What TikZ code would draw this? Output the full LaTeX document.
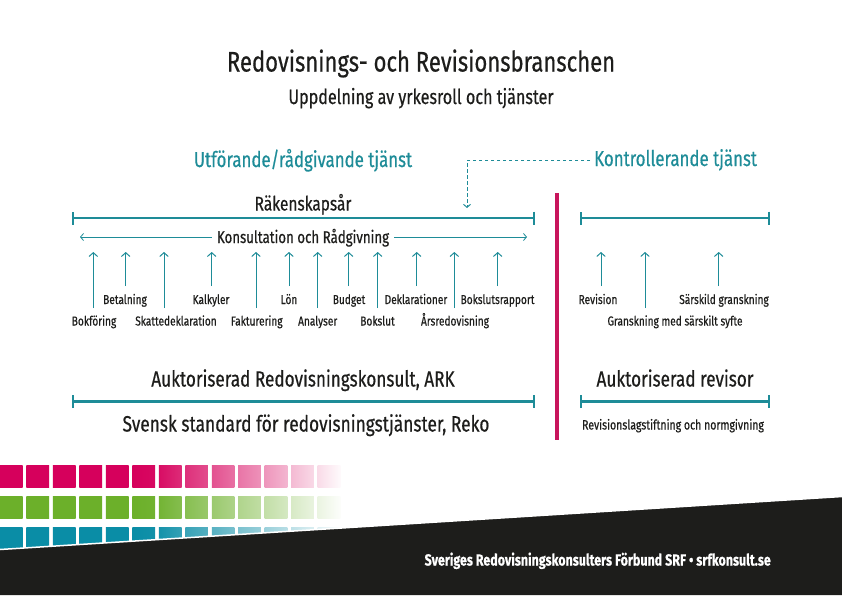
\documentclass[tikz,border=0pt]{standalone}
\usepackage{fontspec}
\setmainfont{Fira Sans}[FakeStretch=0.78, FakeBold=0.5]
\usetikzlibrary{arrows.meta}
\definecolor{tealc}{HTML}{1E8C98}
\definecolor{magc}{HTML}{C8155C}
\definecolor{sqmag}{HTML}{D6005C}
\definecolor{sqgrn}{HTML}{6CB02A}
\definecolor{sqteal}{HTML}{0A8DA6}
\definecolor{ink}{HTML}{1D1D1B}
\newcommand{\fsz}[1]{\fontsize{#1}{#1}\selectfont}
\begin{document}
\begin{tikzpicture}[x=1pt,y=-1pt,
  txt/.style={inner sep=0pt, text=ink, anchor=base},
  lbl/.style={txt, font=\fsz{13}},
  hd/.style={txt, text=tealc, font=\fsz{21.6}},
  role/.style={txt, font=\fsz{22}},
  bar/.style={draw=tealc, line width=2.6pt, {Bar[width=13pt,line width=2.2pt]}-{Bar[width=13pt,line width=2.2pt]}},
  up/.style={draw=tealc, line width=1pt, -{Straight Barb[length=3.8pt,width=8.5pt,line width=1pt]}},
]
\useasboundingbox (0,0) rectangle (842,595);
\fill[white] (0,0) rectangle (842,595);

% titles
\node[txt, font=\fsz{28.3}] (title) at (421,71.5) {Redovisnings- och Revisionsbranschen};
\node[txt, font=\fsz{20.7}] (sub) at (421,104) {Uppdelning av yrkesroll och tjänster};
\node[hd] (left) at (303,167) {Utförande/rådgivande tjänst};
\node[hd, anchor=base west] (right) at (594,166) {Kontrollerande tjänst};

% dashed connector
\coordinate (dc) at (467,160);
\coordinate (dend) at (467,208);
\draw[tealc, line width=1pt, dash pattern=on 3.5pt off 2.5pt, -{Straight Barb[length=3pt,width=7pt]}]
  ([xshift=-4pt]right.west |- dc) -- (dc) -- (dend);

% year bars
\node[txt, font=\fsz{19.8}] (rak) at (303,210.5) {Räkenskapsår};
\coordinate (b1a) at (72,218); \coordinate (b1b) at (535,218);
\draw[bar] (b1a) -- (b1b);
\coordinate (b2a) at (580,218); \coordinate (b2b) at (770,218);
\draw[bar] (b2a) -- (b2b);

% consultation
\node[txt, font=\fsz{17}] (kons) at (303,243) {Konsultation och Rådgivning};
\coordinate (k1) at (80,237); \coordinate (k2) at (527,237);
\draw[tealc, line width=0.8pt, -{Straight Barb[length=3pt,width=7pt]}] ([xshift=-5pt]kons.west |- k1) -- (k1);
\draw[tealc, line width=0.8pt, -{Straight Barb[length=3pt,width=7pt]}] ([xshift=5pt]kons.east |- k2) -- (k2);

% divider
\coordinate (dv1) at (557,193); \coordinate (dv2) at (557,440);
\draw[magc, line width=3.5pt] (dv1) -- (dv2);

% up arrows with labels
\foreach \ax/\lx/\row/\name/\txt in {
  93.3/94/2/a1/Bokföring,
  125.7/125/1/a2/Betalning,
  164/176/2/a3/Skattedeklaration,
  211.7/211/1/a4/Kalkyler,
  256/256.7/2/a5/Fakturering,
  289/289/1/a6/Lön,
  317.7/317.7/2/a7/Analyser,
  348.7/349/1/a8/Budget,
  377.7/377.5/2/a9/Bokslut,
  416.7/416/1/a10/Deklarationer,
  454.3/455/2/a11/Årsredovisning,
  497.7/497.5/1/a12/Bokslutsrapport,
  601/598/1/r1/Revision,
  645/675/2/r2/Granskning med särskilt syfte,
  718.7/724/1/r3/Särskild granskning}{
  \ifnum\row=1
    \node[lbl] (\name) at (\lx,304) {\txt};
    \coordinate (\name b) at (\ax,286);
  \else
    \node[lbl] (\name) at (\lx,325.5) {\txt};
    \coordinate (\name b) at (\ax,308);
  \fi
  \coordinate (\name t) at (\ax,252);
  \draw[up] (\name b) -- (\name t);
}

% bottom roles
\node[role] (ark) at (303,386.5) {Auktoriserad Redovisningskonsult, ARK};
\coordinate (c1a) at (72,401.5); \coordinate (c1b) at (535,401.5);
\draw[bar] (c1a) -- (c1b);
\node[role, font=\fsz{22.2}] (reko) at (306,431.5) {Svensk standard för redovisningstjänster, Reko};
\node[role] (rev) at (675,386.5) {Auktoriserad revisor};
\coordinate (c2a) at (580,401.5); \coordinate (c2b) at (770,401.5);
\draw[bar] (c2a) -- (c2b);
\node[txt, font=\fsz{13.5}] (norm) at (673,429.5) {Revisionslagstiftning och normgivning};

% squares
\foreach \i in {0,...,12}{
  \pgfmathsetmacro{\xl}{26.47*\i}
  \pgfmathsetmacro{\xr}{\xl+22.7}
  \pgfmathtruncatemacro{\fl}{max(0,min(100,(345-\xl)/195*100))}
  \pgfmathtruncatemacro{\fr}{max(0,min(100,(345-\xr)/195*100))}
  \shade[left color=sqmag!\fl!white, right color=sqmag!\fr!white] (\xl,465) rectangle (\xr,487.5);
  \shade[left color=sqgrn!\fl!white, right color=sqgrn!\fr!white] (\xl,496.3) rectangle (\xr,518.8);
  \shade[left color=sqteal!\fl!white, right color=sqteal!\fr!white] (\xl,527) rectangle (\xr,552);
}

% footer band
\coordinate (f1) at (0,549.5); \coordinate (f2) at (842,496.5);
\fill[ink] (f1) -- (f2) -- (842,595) -- (0,595) -- cycle;
\draw[white, line width=1.5pt] (f1) -- (f2);
\node[txt, anchor=base east, text=white, font=\fsz{16}\bfseries] (foot) at (771,565.5) {Sveriges Redovisningskonsulters Förbund SRF • srfkonsult.se};
\end{tikzpicture}
\end{document}
